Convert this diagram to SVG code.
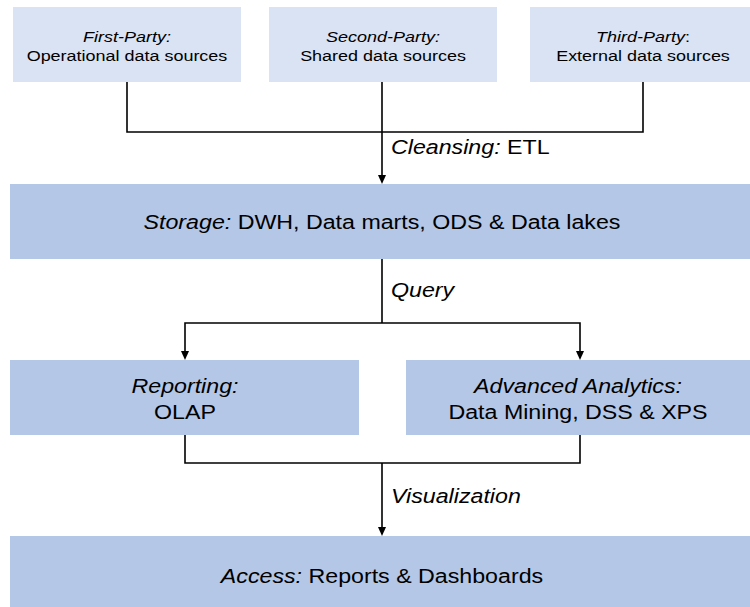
<svg xmlns="http://www.w3.org/2000/svg" width="750" height="607" viewBox="0 0 750 607">
<style>
.src{fill:#dae3f3}
.box{fill:#b4c7e7}
text{font-family:"Liberation Sans",Arial,sans-serif;fill:#000}
.s{font-size:15.5px}
.b{font-size:19.5px}
.i{font-style:italic}
.c{text-anchor:middle}
.ln{fill:none;stroke:#000;stroke-width:1.6}
</style>
<rect width="750" height="607" fill="#fff"/>
<g id="connectors">
<path class="ln" d="M127,82 V132 H643 V82 M382,82 V132"/>
<path class="ln" d="M382,132 V176"/>
<path d="M378,175 L386,175 L382,184 Z"/>
<path class="ln" d="M382,259 V323 M185,352 V323 H580 V352"/>
<path d="M181,351 L189,351 L185,360 Z"/>
<path d="M576,351 L584,351 L580,360 Z"/>
<path class="ln" d="M185,435 V463 H580 V435 M382,463 V528"/>
<path d="M378,527 L386,527 L382,536 Z"/>
<text class="b" transform="translate(391,154) scale(1.19,1)"><tspan class="i">Cleansing:</tspan> ETL</text>
<text class="b i" transform="translate(391,297) scale(1.19,1)">Query</text>
<text class="b i" transform="translate(391,503) scale(1.19,1)">Visualization</text>
</g>
<g id="first-party">
<rect class="src" x="13" y="7" width="228" height="75"/>
<text class="s c i" transform="translate(127,41.5) scale(1.16,1)">First-Party:</text>
<text class="s c" transform="translate(127,60.5) scale(1.16,1)">Operational data sources</text>
</g>
<g id="second-party">
<rect class="src" x="269" y="7" width="228" height="75"/>
<text class="s c i" transform="translate(383,41.5) scale(1.16,1)">Second-Party:</text>
<text class="s c" transform="translate(383,60.5) scale(1.16,1)">Shared data sources</text>
</g>
<g id="third-party">
<rect class="src" x="530" y="7" width="220" height="75"/>
<text class="s c" transform="translate(643,41.5) scale(1.16,1)"><tspan class="i">Third-Party</tspan>:</text>
<text class="s c" transform="translate(643,60.5) scale(1.16,1)">External data sources</text>
</g>
<g id="storage">
<rect class="box" x="10" y="184" width="740" height="75"/>
<text class="b c" transform="translate(382,228.5) scale(1.19,1)"><tspan class="i">Storage:</tspan> DWH, Data marts, ODS &amp; Data lakes</text>
</g>
<g id="reporting">
<rect class="box" x="10" y="360" width="349" height="75"/>
<text class="b c i" transform="translate(185,392.5) scale(1.19,1)">Reporting:</text>
<text class="b c" transform="translate(185,418.5) scale(1.19,1)">OLAP</text>
</g>
<g id="analytics">
<rect class="box" x="406" y="360" width="344" height="75"/>
<text class="b c i" transform="translate(578,392.5) scale(1.19,1)">Advanced Analytics:</text>
<text class="b c" transform="translate(578,418.5) scale(1.19,1)">Data Mining, DSS &amp; XPS</text>
</g>
<g id="access">
<rect class="box" x="10" y="536" width="740" height="71"/>
<text class="b c" transform="translate(382,583) scale(1.19,1)"><tspan class="i">Access:</tspan> Reports &amp; Dashboards</text>
</g>
</svg>
